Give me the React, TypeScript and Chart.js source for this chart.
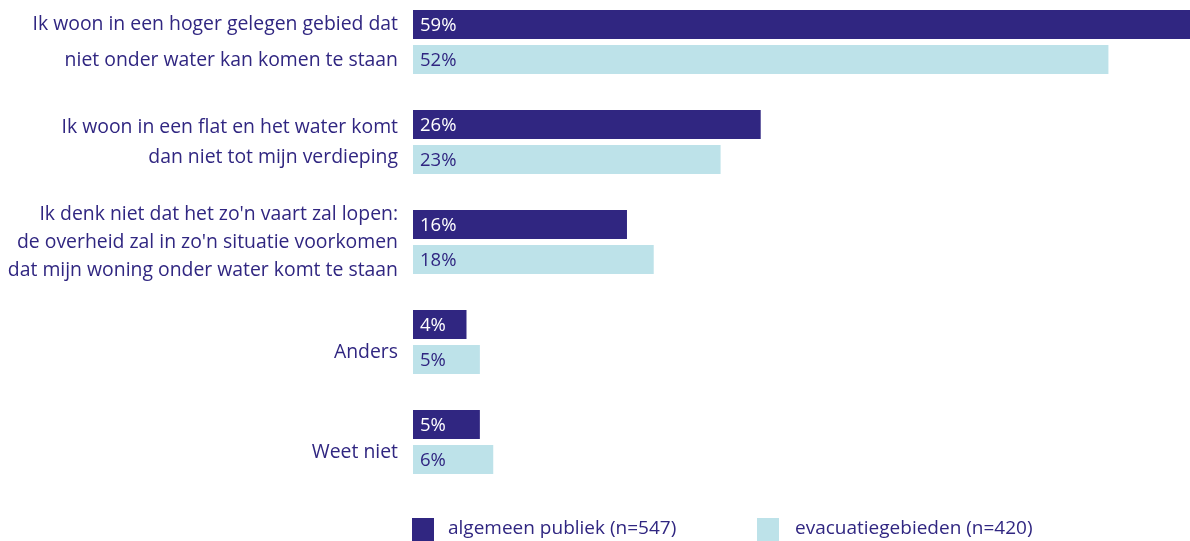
import React, { useEffect, useRef } from "react";
import { Chart, registerables } from "chart.js";

Chart.register(...registerables);

const categories: string[][] = [
  ["Ik woon in een hoger gelegen gebied dat", "niet onder water kan komen te staan"],
  ["Ik woon in een flat en het water komt", "dan niet tot mijn verdieping"],
  ["Ik denk niet dat het zo'n vaart zal lopen:", "de overheid zal in zo'n situatie voorkomen", "dat mijn woning onder water komt te staan"],
  ["", "Anders"],
  ["", "Weet niet"],
];
const seriesNames = ["algemeen publiek (n=547)", "evacuatiegebieden (n=420)"];
const algemeenPubliek = [59, 26, 16, 4, 5];
const evacuatiegebieden = [52, 23, 18, 5, 6];

const NAVY = "#302681";
const LIGHT = "#bde2e9";
const FONT = "'Open Sans', sans-serif";
const lineHeights = [36, 30, 28, 20, 20];

const W = 1190;
const H = 549;

const valueLabels = {
  id: "valueLabels",
  afterDatasetsDraw(chart: any) {
    const ctx = chart.ctx;
    ctx.save();
    ctx.font = `18.5px ${FONT}`;
    ctx.textBaseline = "middle";
    ctx.textAlign = "left";
    chart.data.datasets.forEach((ds: any, di: number) => {
      const meta = chart.getDatasetMeta(di);
      meta.data.forEach((bar: any, i: number) => {
        ctx.fillStyle = di === 0 ? "#ffffff" : NAVY;
        ctx.fillText(`${ds.data[i]}%`, bar.base + 7, bar.y + 1);
      });
    });
    ctx.restore();
  },
};

const customLegend = {
  id: "customLegend",
  afterDraw(chart: any) {
    const ctx = chart.ctx;
    ctx.save();
    ctx.font = `19px ${FONT}`;
    ctx.textBaseline = "middle";
    ctx.textAlign = "left";
    const items = [
      { x: 412, textX: 448 },
      { x: 757, textX: 795 },
    ];
    chart.data.datasets.forEach((ds: any, di: number) => {
      const it = items[di];
      ctx.fillStyle = ds.backgroundColor;
      ctx.fillRect(it.x, 526, 22, 24);
      ctx.fillStyle = NAVY;
      ctx.fillText(ds.label, it.textX, 537);
    });
    ctx.restore();
  },
};

export default function App() {
  const ref = useRef<HTMLCanvasElement | null>(null);
  useEffect(() => {
    document.body.style.margin = "0";
    const chart = new Chart(ref.current as HTMLCanvasElement, {
      type: "bar",
      data: {
        labels: categories,
        datasets: [
          {
            label: seriesNames[0],
            data: algemeenPubliek,
            backgroundColor: NAVY,
            categoryPercentage: 0.7,
            barPercentage: 29 / 35,
          },
          {
            label: seriesNames[1],
            data: evacuatiegebieden,
            backgroundColor: LIGHT,
            categoryPercentage: 0.7,
            barPercentage: 29 / 35,
          },
        ],
      },
      options: {
        indexAxis: "y",
        animation: false,
        responsive: false,
        maintainAspectRatio: false,
        layout: { padding: { left: 0, right: 0, top: 0, bottom: 49 } },
        plugins: {
          legend: { display: false },
          tooltip: { enabled: false },
        },
        scales: {
          x: {
            display: false,
            min: 0,
            max: 58.1,
            grid: { display: false },
          },
          y: {
            offset: true,
            grid: { display: false, drawTicks: false },
            border: { display: false },
            afterFit: (scale: any) => {
              scale.width = 413;
              scale.paddingTop = 0;
              scale.paddingBottom = 0;
            },
            ticks: {
              color: NAVY,
              padding: 15,
              font: (ctx: any) => ({
                family: FONT,
                size: 19.4,
                lineHeight: `${lineHeights[ctx.index] ?? 24}px`,
              }),
            },
          },
        },
      },
      plugins: [valueLabels, customLegend],
    } as any);
    return () => chart.destroy();
  }, []);
  return (
    <div style={{ position: "relative", width: W, height: 541, overflow: "hidden" }}>
      <canvas
        ref={ref}
        width={W}
        height={H}
        style={{ position: "absolute", left: 0, top: -8, width: W, height: H }}
      />
    </div>
  );
}
